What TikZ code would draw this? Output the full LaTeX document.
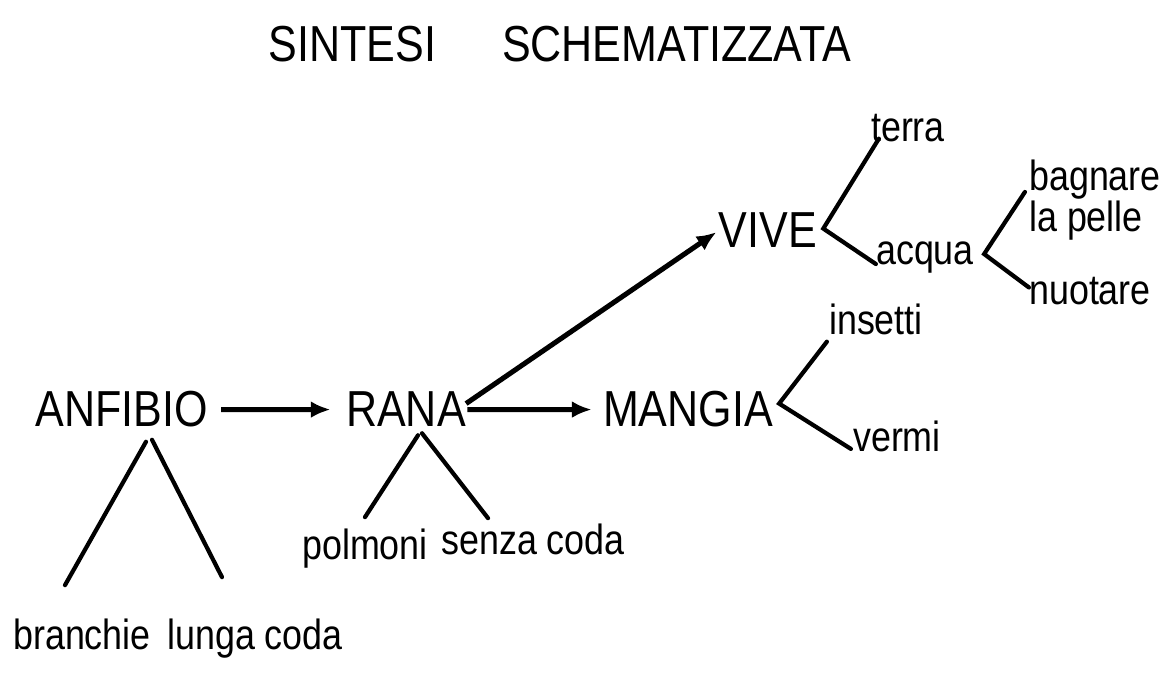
\documentclass[tikz,border=0pt]{standalone}
\usepackage{fontspec}
\setmainfont{Liberation Sans}[FakeStretch=0.85]
\usetikzlibrary{positioning,calc,arrows.meta}

\begin{document}
\begin{tikzpicture}[x=0.025cm, y=-0.025cm,
    big/.style={inner sep=0pt, anchor=base, font=\fontsize{36}{40}\selectfont},
    small/.style={inner sep=0pt, anchor=base, font=\fontsize{30}{34}\selectfont},
    arr/.style={-{Latex[length=14pt,width=12pt]}, line width=3.6pt},
    branch/.style={line width=3pt, line cap=round}]
    \useasboundingbox (0,0) rectangle (1167,674);

    \node [big] (title) at (560,62) {SINTESI\hspace{1.3em}SCHEMATIZZATA};

    \node [big] (anfibio) at (122,427) {ANFIBIO};
    \node [big] (rana) at (406,427) {RANA};
    \node [big] (mangia) at (688,427) {MANGIA};
    \node [big] (vive) at (768,248) {VIVE};

    \node [small] (terra) at (908,142) {terra};
    \node [small] (acqua) at (925,265) {acqua};
    \node [small, align=left, anchor=center, font=\fontsize{30}{26}\selectfont] (pelle) at (1095,200) {bagnare\\la pelle};
    \node [small] (nuotare) at (1090,305) {nuotare};
    \node [small] (insetti) at (876,335) {insetti};
    \node [small] (vermi) at (897,452) {vermi};
    \node [small] (polmoni) at (365,560) {polmoni};
    \node [small] (senza) at (533,555) {senza coda};
    \node [small] (branchie) at (82,650) {branchie};
    \node [small] (lunga) at (255,650) {lunga coda};

    % frecce
    \draw [arr, shorten <=9pt, shorten >=11pt] (anfibio.east) -- (rana.west);
    \draw [arr, shorten <=1pt, shorten >=8pt] (rana.east) -- (mangia.west);
    \draw [arr, shorten >=2pt] ($(rana.east)+(0,-6)$) -- (vive.west);

    % rami
    \coordinate (viveFork) at ($(vive.east)+(6,-2)$);
    \coordinate (acquaFork) at ($(acqua.east)+(10,-4)$);
    \coordinate (mangiaFork) at ($(mangia.east)+(6,-6)$);
    \draw [branch] ($(terra.south west)+(8,-4)$) -- (viveFork) -- ($(acqua.west)+(0,6)$);
    \draw [branch] ($(pelle.west)+(-4,-8)$) -- (acquaFork) -- ($(nuotare.north west)+(0,10)$);
    \draw [branch] ($(insetti.south west)+(-2,6)$) -- (mangiaFork) -- ($(vermi.west)+(-2,12)$);
    \draw [branch] ($(rana.south)+(12,8)$) -- ($(polmoni.north)+(0,-12)$);
    \draw [branch] ($(rana.south)+(16,6)$) -- ($(senza.north west)+(47,-6)$);
    \draw [branch] ($(anfibio.south)+(24,14)$) -- ($(branchie.north)+(-17,-34)$);
    \draw [branch] ($(anfibio.south)+(30,12)$) -- ($(lunga.north west)+(55,-42)$);
\end{tikzpicture}
\end{document}
